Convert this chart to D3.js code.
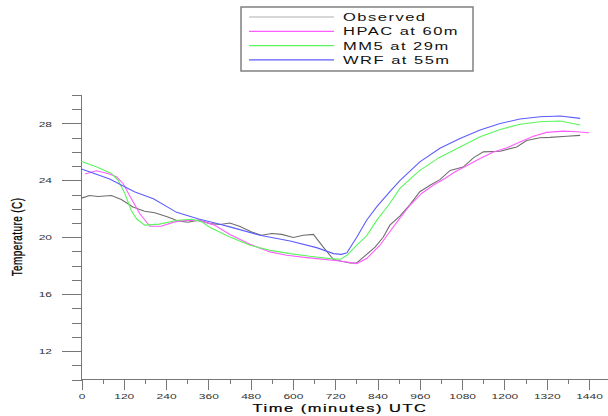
<!DOCTYPE html>
<html lang="en">
<head>
<meta charset="UTF-8">
<script src="https://cdn.jsdelivr.net/npm/d3@7"></script>
<title>Temperature</title>
<style>
    body { margin: 0; background: #fff; }
    svg { display: block; font-family: "Liberation Sans", Arial, sans-serif; }
</style>
</head>
<body>
<script>
// values (time in minutes UTC, temperature in C)
let obsTime = [0, 23, 47, 85, 113, 146, 179, 208, 245, 274, 302, 331, 365, 393, 421, 450, 483, 511, 540, 568, 601, 629, 658, 686, 715, 734, 762, 781, 800, 833, 856, 875, 904, 932, 960, 989, 1017, 1046, 1083, 1112, 1140, 1188, 1235, 1263, 1301, 1329, 1377, 1415]
let obsTemp = [22.75, 22.93, 22.86, 22.93, 22.65, 22.13, 21.83, 21.72, 21.43, 21.15, 21.06, 21.2, 20.96, 20.9, 21.0, 20.75, 20.37, 20.14, 20.26, 20.2, 19.98, 20.14, 20.2, 19.3, 18.43, 18.33, 18.19, 18.2, 18.6, 19.3, 20.0, 20.85, 21.5, 22.3, 23.2, 23.66, 24.05, 24.7, 24.93, 25.58, 26.0, 26.05, 26.35, 26.8, 27.0, 27.02, 27.1, 27.16]

let hpacTime = [10, 42, 75, 99, 118, 141, 165, 194, 226, 264, 302, 340, 378, 421, 478, 535, 582, 639, 696, 734, 781, 809, 847, 871, 899, 932, 965, 998, 1031, 1060, 1093, 1131, 1169, 1207, 1244, 1282, 1320, 1367, 1405, 1440]
let hpacTemp = [24.44, 24.67, 24.48, 24.25, 23.78, 22.72, 21.67, 20.77, 20.77, 21.08, 21.2, 21.15, 20.85, 20.2, 19.5, 18.97, 18.73, 18.57, 18.43, 18.33, 18.15, 18.5, 19.44, 20.26, 21.2, 22.25, 23.08, 23.66, 24.13, 24.6, 25.02, 25.54, 26.0, 26.29, 26.7, 27.1, 27.37, 27.46, 27.42, 27.35]

let mm5Time = [0, 40, 85, 104, 123, 141, 156, 179, 220, 274, 312, 340, 365, 421, 478, 535, 592, 648, 705, 735, 753, 781, 809, 838, 871, 904, 960, 1017, 1074, 1131, 1188, 1244, 1301, 1358, 1415]
let mm5Temp = [25.33, 24.97, 24.48, 24.0, 23.08, 21.9, 21.3, 20.85, 20.92, 21.2, 21.27, 21.1, 20.68, 20.02, 19.44, 19.08, 18.85, 18.66, 18.5, 18.45, 18.73, 19.44, 20.1, 21.2, 22.25, 23.45, 24.7, 25.63, 26.34, 27.06, 27.58, 27.94, 28.12, 28.17, 27.89]

let wrfTime = [0, 80, 150, 204, 270, 330, 387, 421, 506, 592, 667, 715, 738, 753, 781, 809, 838, 875, 904, 960, 1017, 1074, 1131, 1188, 1244, 1301, 1358, 1415]
let wrfTemp = [24.8, 24.1, 23.2, 22.7, 21.75, 21.3, 20.95, 20.73, 20.14, 19.74, 19.27, 18.85, 18.8, 18.9, 20.0, 21.2, 22.15, 23.2, 24.0, 25.3, 26.25, 26.95, 27.54, 28.0, 28.31, 28.47, 28.52, 28.36]

let seriesNames = ["Observed", "HPAC at 60m", "MM5 at 29m", "WRF at 55m"]
let seriesColors = ["#6e6e6e", "#ff5cff", "#5cf55c", "#5c5cff"]

let xMajor = d3.range(0, 1441, 120)
let xMinor = d3.range(60, 1441, 120)
let yMajor = [12, 16, 20, 24, 28]
let yMinor = d3.range(10, 31, 1).filter(d => d % 4 !== 0)

let width = 608
let height = 416

let svg = d3.select("body").append("svg")
    .attr("width", width)
    .attr("height", height)

let x = d3.scaleLinear().domain([0, 1440]).range([81.5, 589])
let y = d3.scaleLinear().domain([10, 30]).range([379.5, 95])

let axisColor = "#777"

// y axis
svg.append("line")
    .attr("x1", x(0)).attr("x2", x(0))
    .attr("y1", y(30)).attr("y2", y(10))
    .attr("stroke", axisColor)
    .attr("shape-rendering", "crispEdges")

let yAxisMinor = svg.append("g")
    .attr("transform", `translate(${x(0)},0)`)
    .call(d3.axisLeft(y).tickValues(yMinor).tickSize(10).tickFormat(""))
yAxisMinor.select(".domain").remove()

let yAxis = svg.append("g")
    .attr("transform", `translate(${x(0)},0)`)
    .call(d3.axisLeft(y).tickValues(yMajor).tickSize(19.5).tickFormat(d3.format("d")))
yAxis.select(".domain").remove()
yAxis.selectAll("text")
    .attr("x", null)
    .attr("fill", "#333")
    .style("font-size", "8px")
    .attr("transform", "translate(-29.5,0) scale(1.5,1)")

// x axis
svg.append("line")
    .attr("x1", x(0)).attr("x2", width)
    .attr("y1", y(10)).attr("y2", y(10))
    .attr("stroke", axisColor)
    .attr("shape-rendering", "crispEdges")

let xAxisMinor = svg.append("g")
    .attr("transform", `translate(0,${y(10)})`)
    .call(d3.axisBottom(x).tickValues(xMinor).tickSize(4).tickFormat(""))
xAxisMinor.select(".domain").remove()

let xAxis = svg.append("g")
    .attr("transform", `translate(0,${y(10)})`)
    .call(d3.axisBottom(x).tickValues(xMajor).tickSize(10).tickFormat(d3.format("d")))
xAxis.select(".domain").remove()
xAxis.selectAll("text")
    .attr("y", 14)
    .attr("fill", "#333")
    .style("font-size", "8px")
    .attr("transform", "scale(1.5,1)")

svg.selectAll(".tick line").attr("stroke", axisColor).attr("shape-rendering", "crispEdges")

// axis titles
svg.append("text")
    .attr("transform", `translate(340,412) scale(1.5,1)`)
    .attr("text-anchor", "middle")
    .style("font-size", "11px")
    .style("letter-spacing", "1px")
    .attr("fill", "#000")
    .attr("stroke", "#000")
    .attr("stroke-width", 0.2)
    .text("Time (minutes) UTC")

svg.append("text")
    .attr("transform", `translate(21.5,237) scale(1.5,1) rotate(-90)`)
    .attr("text-anchor", "middle")
    .style("font-size", "10px")
    .style("letter-spacing", "0.4px")
    .attr("fill", "#000")
    .attr("stroke", "#000")
    .attr("stroke-width", 0.2)
    .text("Temperature (C)")

// lines
let line = d3.line()
    .x(d => x(d[0]))
    .y(d => y(d[1]))

let allSeries = [
    d3.zip(obsTime, obsTemp),
    d3.zip(hpacTime, hpacTemp),
    d3.zip(mm5Time, mm5Temp),
    d3.zip(wrfTime, wrfTemp)
]

svg.append("g").selectAll("path")
    .data(allSeries)
    .join("path")
    .attr("d", line)
    .attr("fill", "none")
    .attr("stroke", (d, i) => seriesColors[i])
    .attr("stroke-width", 1.1)

// legend
let legend = svg.append("g")
legend.append("rect")
    .attr("x", 241).attr("y", 7)
    .attr("width", 232).attr("height", 64)
    .attr("fill", "#fff")
    .attr("stroke", "#808080")
    .attr("stroke-width", 1.5)

let rows = legend.selectAll("g.row")
    .data(seriesNames)
    .join("g")
    .attr("class", "row")
    .attr("transform", (d, i) => `translate(0,${17 + i * 14.3})`)

rows.append("line")
    .attr("x1", 249).attr("x2", 334)
    .attr("stroke", (d, i) => i === 0 ? "#b0b0b0" : seriesColors[i])
    .attr("stroke-width", 1.2)

rows.append("text")
    .attr("transform", "translate(343,4) scale(1.5,1)")
    .style("font-size", "11px")
    .style("letter-spacing", "1px")
    .attr("fill", "#111")
    .text(d => d)
</script>
</body>
</html>
